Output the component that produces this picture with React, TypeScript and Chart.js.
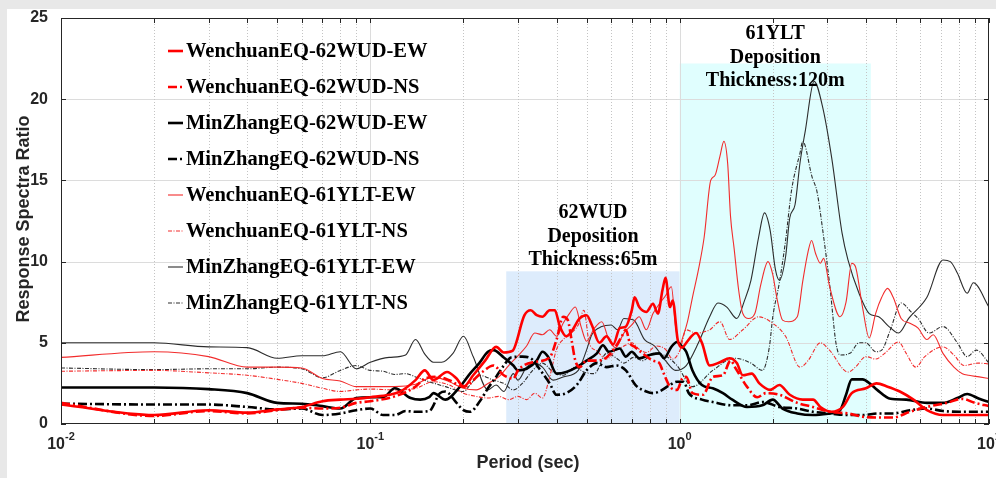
import { useEffect, useRef } from 'react';
import { Chart, registerables } from 'chart.js';

Chart.register(...registerables);

// ---- Response spectra ratios (period in seconds, ratio dimensionless) ----

const wcWudEwPeriod = [0.01,0.02,0.03,0.04,0.05,0.06,0.07,0.08,0.09,0.1,0.115,0.125,0.14,0.15,0.16,0.177,0.19,0.2,0.215,0.235,0.255,0.27,0.288,0.315,0.33,0.345,0.36,0.38,0.395,0.41,0.43,0.447,0.475,0.5,0.52,0.55,0.58,0.61,0.64,0.67,0.7,0.715,0.74,0.78,0.82,0.85,0.88,0.9,0.93,0.95,0.985,1.02,1.05,1.13,1.18,1.25,1.35,1.45,1.53,1.6,1.71,1.81,1.96,2.1,2.27,2.5,2.7,2.85,3.1,3.37,3.6,4.0,4.33,4.7,5.15,5.7,6.3,7.1,10];
const wcWudEwRatio = [1.2,0.55,0.85,0.7,0.9,1.05,1.4,1.5,1.55,1.65,1.8,2.0,2.7,3.3,2.7,3.2,2.8,2.3,3.0,3.9,4.75,4.4,4.5,6.7,7.0,6.7,6.6,7.0,7.0,6.0,5.4,5.7,6.5,6.7,6.1,5.0,5.4,4.9,5.9,6.0,7.0,7.8,7.2,6.9,7.4,6.8,8.25,9.0,7.2,7.6,5.2,4.7,5.0,5.6,5.0,3.6,3.8,4.05,3.75,3.0,3.1,2.5,2.1,2.4,1.8,1.5,1.5,1.05,0.75,1.05,1.9,2.2,2.5,2.3,2.0,1.5,0.85,0.55,0.55];

const wcWudNsPeriod = [0.01,0.02,0.03,0.04,0.05,0.06,0.07,0.08,0.09,0.1,0.12,0.14,0.15,0.165,0.18,0.2,0.23,0.25,0.27,0.29,0.3,0.335,0.38,0.4,0.42,0.435,0.447,0.46,0.475,0.5,0.54,0.58,0.625,0.65,0.67,0.69,0.715,0.76,0.82,0.86,0.88,0.93,0.98,1.02,1.05,1.1,1.19,1.28,1.38,1.46,1.52,1.65,1.78,1.9,2.1,2.4,2.69,3.06,3.5,3.9,4.4,4.9,5.55,6.3,7.3,8.2,9.0,10];
const wcWudNsRatio = [1.3,0.5,0.8,0.65,0.85,1.0,0.95,1.0,1.3,1.4,1.7,2.3,2.8,2.9,2.7,2.3,3.2,3.6,3.0,2.8,3.3,3.8,4.1,5.2,6.6,6.4,5.2,3.9,3.5,3.9,3.9,4.1,4.85,5.4,5.8,5.0,4.75,4.35,3.9,3.75,3.3,2.3,2.1,2.8,2.9,1.9,1.8,2.9,3.0,3.9,3.4,2.3,1.65,1.9,1.8,1.3,1.05,0.75,0.65,0.45,0.4,0.4,0.75,1.05,1.3,1.55,1.3,1.1];

const mzWudEwPeriod = [0.01,0.02,0.03,0.04,0.05,0.06,0.07,0.08,0.09,0.1,0.11,0.12,0.135,0.145,0.155,0.16,0.175,0.195,0.21,0.225,0.24,0.25,0.27,0.29,0.3,0.32,0.345,0.36,0.375,0.4,0.43,0.465,0.5,0.54,0.565,0.59,0.64,0.67,0.7,0.74,0.8,0.86,0.89,0.94,0.98,1.02,1.05,1.1,1.18,1.28,1.38,1.48,1.65,1.85,2.0,2.15,2.4,2.7,3.06,3.3,3.45,3.6,3.9,4.17,4.35,4.8,5.4,6.3,7.1,7.9,8.5,9.3,10];
const mzWudEwRatio = [2.25,2.25,2.15,1.9,1.3,1.25,1.1,0.95,1.6,1.65,1.65,2.2,1.6,1.5,1.65,1.9,1.5,2.3,3.1,3.75,4.45,4.55,4.1,3.6,3.3,3.4,3.9,4.45,4.15,3.1,3.2,3.5,3.9,4.35,4.85,4.45,4.65,4.15,4.45,4.05,4.25,4.35,4.05,4.75,5.05,4.75,4.45,3.3,2.4,2.2,1.9,1.5,1.05,1.15,1.5,0.95,0.65,0.55,0.65,0.85,1.8,2.75,2.75,2.4,2.1,1.55,1.5,1.3,1.3,1.6,1.85,1.55,1.35];

const mzWudNsPeriod = [0.01,0.02,0.03,0.04,0.05,0.06,0.07,0.08,0.09,0.1,0.11,0.12,0.13,0.14,0.155,0.168,0.175,0.19,0.2,0.21,0.225,0.24,0.255,0.27,0.285,0.31,0.33,0.355,0.38,0.4,0.43,0.465,0.5,0.54,0.58,0.625,0.67,0.72,0.78,0.82,0.86,0.93,0.98,1.03,1.07,1.18,1.28,1.48,1.65,1.86,2.1,2.4,2.7,3.06,3.5,3.9,4.4,4.9,5.55,6.3,7.1,8.0,10];
const mzWudNsRatio = [1.25,1.2,1.2,1.05,0.9,0.95,0.55,0.65,0.85,0.95,0.55,0.55,0.8,0.75,0.8,1.9,2.0,1.3,0.85,0.75,1.35,2.2,2.9,3.6,4.1,4.15,4.05,3.3,2.5,1.8,1.9,2.4,3.3,3.75,3.5,3.6,3.3,2.4,2.0,1.9,2.0,2.4,2.6,2.6,1.9,1.5,1.35,1.15,1.15,1.35,1.05,0.95,0.75,0.65,0.55,0.55,0.65,0.65,0.85,0.95,0.8,0.75,0.75];

const wcYltEwPeriod = [0.01,0.02,0.03,0.04,0.05,0.06,0.07,0.08,0.09,0.1,0.12,0.14,0.16,0.18,0.2,0.22,0.24,0.26,0.28,0.3,0.32,0.34,0.36,0.38,0.4,0.42,0.44,0.46,0.48,0.5,0.53,0.56,0.59,0.62,0.66,0.7,0.74,0.78,0.82,0.86,0.9,0.94,0.97,1.0,1.03,1.06,1.1,1.15,1.2,1.26,1.3,1.35,1.39,1.43,1.46,1.5,1.55,1.6,1.67,1.75,1.83,1.93,2.0,2.06,2.15,2.25,2.4,2.5,2.6,2.67,2.75,2.85,2.92,3.05,3.3,3.45,3.6,3.7,3.9,4.1,4.3,4.5,4.7,4.9,5.2,5.55,5.9,6.3,6.6,7.1,7.7,8.2,8.6,9.3,10];
const wcYltEwRatio = [4.1,4.45,4.15,3.5,3.5,3.45,2.8,2.65,2.3,2.3,2.3,2.45,2.9,2.6,2.2,2.1,2.5,2.9,3.6,4.2,4.8,5.6,5.5,5.8,5.4,6.2,6.8,7.2,6.0,5.1,5.9,6.3,5.2,4.7,5.6,6.1,6.6,5.8,6.8,7.4,7.9,8.45,6.0,4.9,5.5,6.3,7.8,9.5,11.5,15.0,15.3,16.5,17.4,16.0,12.8,10.8,8.3,6.8,6.5,6.8,8.6,10.0,9.2,7.8,6.4,6.3,6.6,8.8,10.6,11.3,10.5,9.9,10.2,8.5,6.6,7.5,9.9,9.7,7.2,5.3,6.8,7.8,8.35,7.8,6.5,6.2,5.9,5.2,5.5,4.35,3.5,3.1,3.0,2.9,2.8];

const wcYltNsPeriod = [0.01,0.02,0.03,0.04,0.05,0.06,0.07,0.08,0.09,0.1,0.12,0.14,0.16,0.18,0.2,0.22,0.24,0.26,0.28,0.3,0.32,0.34,0.36,0.38,0.4,0.42,0.44,0.47,0.49,0.51,0.54,0.58,0.62,0.66,0.7,0.74,0.78,0.84,0.9,0.95,1.0,1.05,1.13,1.25,1.35,1.45,1.6,1.8,2.0,2.2,2.45,2.6,2.85,3.05,3.5,3.7,4.0,4.3,4.6,5.1,5.4,5.8,6.2,7.1,7.7,8.3,9.2,10];
const wcYltNsRatio = [3.25,3.3,3.15,3.0,2.75,2.5,2.2,2.0,2.1,2.15,2.1,2.2,2.6,2.4,1.9,1.7,1.6,1.7,1.5,1.7,1.5,1.9,1.6,2.9,4.6,5.2,5.5,6.1,7.0,5.0,4.5,4.0,4.5,4.8,5.0,4.6,4.4,4.8,4.6,4.0,4.5,5.8,5.6,5.8,6.3,5.2,5.8,6.6,6.2,5.4,3.5,3.9,5.0,4.55,3.2,3.5,4.15,4.0,4.35,5.05,4.35,3.5,4.15,4.75,4.25,3.6,3.75,3.7];

const mzYltEwPeriod = [0.01,0.02,0.03,0.04,0.05,0.06,0.07,0.08,0.09,0.1,0.115,0.13,0.14,0.15,0.16,0.17,0.185,0.2,0.215,0.24,0.255,0.27,0.29,0.3,0.32,0.34,0.36,0.39,0.42,0.47,0.5,0.52,0.56,0.6,0.63,0.66,0.71,0.77,0.83,0.9,0.97,1.05,1.15,1.25,1.33,1.42,1.53,1.62,1.7,1.8,1.88,1.96,2.04,2.1,2.2,2.27,2.36,2.45,2.55,2.72,2.9,3.1,3.35,3.5,3.8,4.1,4.4,4.75,5.1,5.5,6.3,7.1,7.5,7.9,8.5,8.9,10];
const mzYltEwRatio = [5.0,5.0,4.75,4.7,4.05,4.2,4.2,4.45,3.4,3.8,4.1,4.25,5.2,4.3,3.8,3.8,4.35,5.4,4.15,2.1,2.4,2.0,3.1,2.7,3.5,3.75,3.5,2.7,2.9,3.3,4.55,5.5,6.0,6.1,5.8,6.5,6.4,5.2,4.8,3.9,3.3,3.6,5.0,6.6,7.45,7.2,6.5,7.6,8.85,11.5,13.0,11.95,9.5,8.85,10.3,12.7,13.5,16.1,18.1,21.1,19.5,16.4,11.75,10.1,8.05,6.8,6.6,6.0,5.6,6.5,7.8,10.1,10.0,9.3,8.05,8.7,7.2];

const mzYltNsPeriod = [0.01,0.02,0.03,0.04,0.05,0.06,0.07,0.08,0.09,0.1,0.11,0.12,0.13,0.14,0.155,0.175,0.2,0.21,0.225,0.25,0.27,0.29,0.31,0.335,0.36,0.39,0.42,0.46,0.49,0.53,0.58,0.62,0.66,0.71,0.76,0.82,0.9,0.98,1.1,1.28,1.5,1.7,1.85,1.95,2.0,2.1,2.2,2.3,2.45,2.5,2.68,2.78,2.9,3.06,3.2,3.3,3.55,3.8,4.0,4.3,4.5,4.8,5.2,5.6,5.9,6.4,7.1,7.9,8.5,9.1,10];
const mzYltNsRatio = [3.45,3.35,3.4,3.4,3.5,3.4,2.85,3.3,3.6,3.3,3.25,3.05,3.1,2.9,2.6,2.3,2.0,2.4,3.0,2.7,2.5,2.1,2.5,3.3,3.75,3.2,3.0,3.5,3.2,3.1,4.35,4.1,3.75,4.1,3.9,4.35,4.2,3.6,2.3,3.3,4.05,3.75,3.3,4.75,6.6,8.7,11.3,14.4,16.7,17.4,15.2,14.3,11.95,8.45,5.0,4.25,4.35,5.0,5.0,4.45,4.55,5.8,7.45,6.9,6.5,5.6,6.0,5.0,4.15,4.55,3.75];

const seriesLabels = [
  'WenchuanEQ-62WUD-EW',
  'WenchuanEQ-62WUD-NS',
  'MinZhangEQ-62WUD-EW',
  'MinZhangEQ-62WUD-NS',
  'WenchuanEQ-61YLT-EW',
  'WenchuanEQ-61YLT-NS',
  'MinZhangEQ-61YLT-EW',
  'MinZhangEQ-61YLT-NS',
];
const seriesPeriods = [wcWudEwPeriod, wcWudNsPeriod, mzWudEwPeriod, mzWudNsPeriod, wcYltEwPeriod, wcYltNsPeriod, mzYltEwPeriod, mzYltNsPeriod];
const seriesRatios = [wcWudEwRatio, wcWudNsRatio, mzWudEwRatio, mzWudNsRatio, wcYltEwRatio, wcYltNsRatio, mzYltEwRatio, mzYltNsRatio];

// Deposition bands: period range and ratio height
const bandNames = ['62WUD', '61YLT'];
const bandThickness = ['Thickness:65m', 'Thickness:120m'];
const bandFrom = [0.275, 1.0];
const bandTo = [1.0, 4.15];
const bandTop = [9.4, 22.2];
const bandNoteValue = [13.0, 24.0];

const yTickValues = [0, 5, 10, 15, 20, 25];
const xDecades = [0.01, 0.1, 1, 10];
const xDecadeExponents = ['-2', '-1', '0', '1'];

// ---- styling ----
const SERIF = '"Liberation Serif", "Times New Roman", serif';
const SANS = '"Liberation Sans", Arial, sans-serif';
const AXIS_INK = '#262626';

type LineStyle = { color: string; width: number; dash: number[] };
const lineStyles: LineStyle[] = [
  { color: '#ff0000', width: 2.6, dash: [] },
  { color: '#ff0000', width: 2.6, dash: [9, 3, 2, 3] },
  { color: '#000000', width: 2.6, dash: [] },
  { color: '#000000', width: 2.6, dash: [9, 3, 2, 3] },
  { color: '#f22c2c', width: 1.1, dash: [] },
  { color: '#f22c2c', width: 1.1, dash: [4, 1.5, 1, 1.5] },
  { color: '#2c2c2c', width: 1.1, dash: [] },
  { color: '#2c2c2c', width: 1.1, dash: [4, 1.5, 1, 1.5] },
];
const bandFills = ['rgb(221,236,252)', 'rgb(224,254,254)'];

const decorPlugin = {
  id: 'spectraDecor',
  beforeDatasetsDraw(chart: any) {
    const { ctx, chartArea: a, scales } = chart;
    const x = scales.x;
    const y = scales.y;
    ctx.save();
    // shaded deposition bands
    bandFrom.forEach((from, i) => {
      const x0 = x.getPixelForValue(from);
      const x1 = x.getPixelForValue(bandTo[i]);
      const yt = y.getPixelForValue(bandTop[i]);
      const yb = y.getPixelForValue(0);
      ctx.fillStyle = bandFills[i];
      ctx.fillRect(x0, yt, x1 - x0, yb - yt);
    });
    // major grid
    ctx.lineWidth = 1;
    ctx.strokeStyle = '#dcdcdc';
    ctx.setLineDash([]);
    yTickValues.forEach((v) => {
      if (v <= 0 || v >= 25) return;
      const py = Math.round(y.getPixelForValue(v)) + 0.5;
      ctx.beginPath();
      ctx.moveTo(a.left, py);
      ctx.lineTo(a.right, py);
      ctx.stroke();
    });
    xDecades.forEach((d) => {
      if (d <= 0.01 || d >= 10) return;
      const px = Math.round(x.getPixelForValue(d)) + 0.5;
      ctx.beginPath();
      ctx.moveTo(px, a.top);
      ctx.lineTo(px, a.bottom);
      ctx.stroke();
    });
    // minor (log) grid, dotted
    ctx.strokeStyle = '#c4c4c4';
    ctx.setLineDash([1, 2]);
    xDecades.slice(0, 3).forEach((d) => {
      for (let m = 2; m <= 9; m++) {
        const px = Math.round(x.getPixelForValue(d * m)) + 0.5;
        ctx.beginPath();
        ctx.moveTo(px, a.top);
        ctx.lineTo(px, a.bottom);
        ctx.stroke();
      }
    });
    ctx.restore();
  },
  afterDatasetsDraw(chart: any) {
    const { ctx, chartArea: a, scales } = chart;
    const x = scales.x;
    const y = scales.y;
    ctx.save();
    // axes box
    ctx.strokeStyle = AXIS_INK;
    ctx.lineWidth = 1;
    ctx.setLineDash([]);
    ctx.strokeRect(Math.round(a.left) + 0.5, Math.round(a.top) + 0.5, Math.round(a.right - a.left) - 1, Math.round(a.bottom - a.top) - 1);
    // inward tick marks on all four sides
    const tick = 5;
    const xTickVals: number[] = [];
    xDecades.slice(0, 3).forEach((d) => {
      for (let m = 1; m <= 9; m++) xTickVals.push(d * m);
    });
    xTickVals.push(10);
    ctx.beginPath();
    xTickVals.forEach((v) => {
      const px = Math.round(x.getPixelForValue(v)) + 0.5;
      ctx.moveTo(px, a.bottom);
      ctx.lineTo(px, a.bottom - tick);
      ctx.moveTo(px, a.top);
      ctx.lineTo(px, a.top + tick);
    });
    yTickValues.forEach((v) => {
      const py = Math.round(y.getPixelForValue(v)) + 0.5;
      ctx.moveTo(a.left, py);
      ctx.lineTo(a.left + tick, py);
      ctx.moveTo(a.right, py);
      ctx.lineTo(a.right - tick, py);
    });
    ctx.stroke();

    // x tick labels: 10 with superscript exponent
    ctx.fillStyle = AXIS_INK;
    ctx.textBaseline = 'middle';
    ctx.textAlign = 'left';
    xDecades.forEach((d, i) => {
      const px = x.getPixelForValue(d);
      ctx.font = `bold 16px ${SANS}`;
      const wBase = ctx.measureText('10').width;
      ctx.font = `bold 11px ${SANS}`;
      const wExp = ctx.measureText(xDecadeExponents[i]).width;
      const start = px - (wBase + wExp) / 2;
      ctx.font = `bold 16px ${SANS}`;
      ctx.fillText('10', start, a.bottom + 21);
      ctx.font = `bold 11px ${SANS}`;
      ctx.fillText(xDecadeExponents[i], start + wBase, a.bottom + 13);
    });

    // axis titles
    ctx.font = `bold 18px ${SANS}`;
    ctx.textAlign = 'center';
    ctx.fillText('Period (sec)', (a.left + a.right) / 2 + 3, a.bottom + 39);
    ctx.save();
    ctx.translate(a.left - 37, (a.top + a.bottom) / 2 - 2);
    ctx.rotate(-Math.PI / 2);
    ctx.fillText('Response Spectra Ratio', 0, 0);
    ctx.restore();

    // band notes
    ctx.fillStyle = '#000';
    ctx.font = `bold 20px ${SERIF}`;
    ctx.textAlign = 'center';
    bandNames.forEach((name, i) => {
      const cx = (x.getPixelForValue(bandFrom[i]) + x.getPixelForValue(bandTo[i])) / 2;
      const y0 = y.getPixelForValue(bandNoteValue[i]);
      [name, 'Deposition', bandThickness[i]].forEach((t, k) => {
        ctx.fillText(t, cx, y0 + k * 23.5);
      });
    });

    // legend
    ctx.font = `bold 20.5px ${SERIF}`;
    ctx.textAlign = 'left';
    seriesLabels.forEach((label, i) => {
      const ry = a.top + 33 + i * 36;
      const st = lineStyles[i];
      ctx.strokeStyle = st.color;
      ctx.lineWidth = st.width;
      ctx.setLineDash(st.dash);
      ctx.beginPath();
      ctx.moveTo(a.left + 107, ry);
      ctx.lineTo(a.left + 122, ry);
      ctx.stroke();
      ctx.fillStyle = '#000';
      ctx.fillText(label, a.left + 125, ry + 1);
    });
    ctx.restore();
  },
};

export default function App() {
  const canvasRef = useRef<HTMLCanvasElement>(null);

  useEffect(() => {
    const canvas = canvasRef.current;
    if (!canvas) return;
    const datasets = seriesLabels.map((label, i) => ({
      label,
      data: seriesPeriods[i].map((p, k) => ({ x: p, y: seriesRatios[i][k] })),
      borderColor: lineStyles[i].color,
      borderWidth: lineStyles[i].width,
      borderDash: lineStyles[i].dash,
      pointRadius: 0,
      fill: false,
      cubicInterpolationMode: 'monotone' as const,
    }));
    const chart = new Chart(canvas, {
      type: 'line',
      data: { datasets },
      options: {
        responsive: false,
        animation: false,
        devicePixelRatio: 1,
        events: [],
        layout: { padding: { top: 9, right: 18, left: 0, bottom: 0 } },
        plugins: { legend: { display: false }, tooltip: { enabled: false } },
        scales: {
          x: {
            type: 'logarithmic',
            min: 0.01,
            max: 10,
            grid: { display: false },
            border: { display: false },
            ticks: { display: false },
            afterFit(s: any) {
              s.height = 54;
              s.paddingLeft = 0;
              s.paddingRight = 0;
            },
          },
          y: {
            type: 'linear',
            min: 0,
            max: 25,
            grid: { display: false },
            border: { display: false },
            ticks: {
              stepSize: 5,
              padding: 5,
              color: AXIS_INK,
              font: { family: SANS, size: 16, weight: 'bold' },
            },
            afterFit(s: any) {
              s.width = 54;
              s.paddingTop = 0;
              s.paddingBottom = 0;
            },
          },
        },
      } as any,
      plugins: [decorPlugin],
    });
    return () => chart.destroy();
  }, []);

  return (
    <div
      style={{
        position: 'fixed',
        left: 0,
        top: 0,
        width: 996,
        height: 478,
        background: '#e8e8e8',
        overflow: 'hidden',
      }}
    >
      <canvas
        ref={canvasRef}
        width={1000}
        height={469}
        style={{ position: 'absolute', left: 7, top: 9, width: 1000, height: 469, background: '#ffffff' }}
      />
    </div>
  );
}
